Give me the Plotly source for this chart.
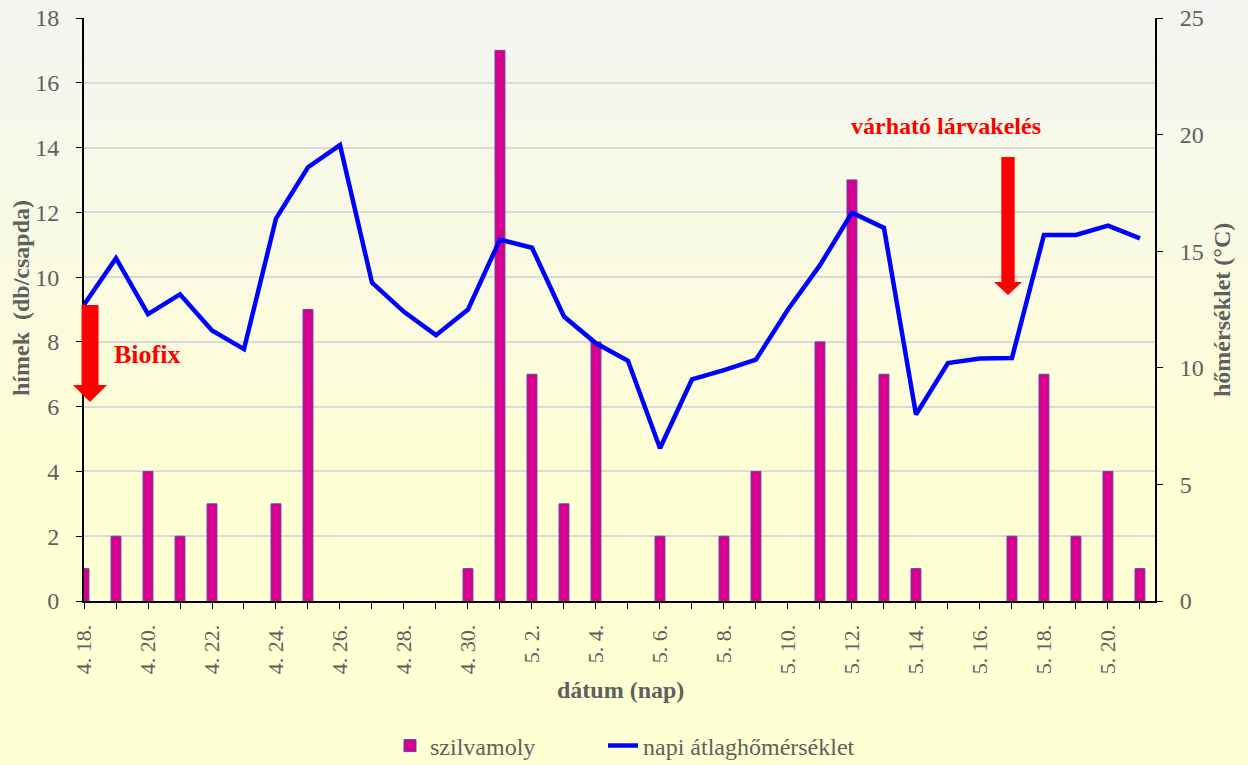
import plotly.graph_objects as go

# ---- data ----
dates = ["4. 18.", "4. 19.", "4. 20.", "4. 21.", "4. 22.", "4. 23.", "4. 24.", "4. 25.",
         "4. 26.", "4. 27.", "4. 28.", "4. 29.", "4. 30.", "5. 1.", "5. 2.", "5. 3.",
         "5. 4.", "5. 5.", "5. 6.", "5. 7.", "5. 8.", "5. 9.", "5. 10.", "5. 11.",
         "5. 12.", "5. 13.", "5. 14.", "5. 15.", "5. 16.", "5. 17.", "5. 18.", "5. 19.",
         "5. 20.", "5. 21."]
szilvamoly = [1, 2, 4, 2, 3, 0, 3, 9, 0, 0, 0, 0, 1, 17, 7, 3, 8, 0, 2, 0, 2, 4, 0, 8,
              13, 7, 1, 0, 0, 2, 7, 2, 4, 1]
homerseklet = [12.7, 14.7, 12.3, 13.15, 11.6, 10.8, 16.4, 18.6, 19.55, 13.65, 12.4, 11.4,
               12.5, 15.5, 15.15, 12.2, 11.05, 10.3, 6.55, 9.5, 9.9, 10.35, 12.5, 14.4,
               16.65, 16.0, 8.0, 10.2, 10.4, 10.42, 15.7, 15.7, 16.1, 15.55]

idx = list(range(len(dates)))
tick_idx = idx[::2]
tick_txt = dates[::2]

GRAY = "#5F5F5F"
SERIF = "Liberation Serif, Times New Roman, serif"

# plot area in pixels (page coordinates)
L, R, T, B = 84, 1155, 18, 601
def px(x):
    return (x - L) / (R - L)
def py(y):
    return (B - y) / (B - T)

fig = go.Figure()
fig.add_trace(go.Bar(
    x=idx, y=[v if v else None for v in szilvamoly], name="szilvamoly", width=0.31,
    marker=dict(color="#D4008F", line=dict(color="#6F3FA0", width=1)),
    yaxis="y", legend="legend"))
fig.add_trace(go.Scatter(
    x=idx, y=homerseklet, name="napi átlaghőmérséklet", mode="lines",
    line=dict(color="#0000FF", width=4.5), yaxis="y2", legend="legend2"))

# background gradient (style)
shapes = []
top = (243, 245, 242)
bot = (255, 255, 212)
n = 60
grad_end = 480
for i in range(n):
    y0p = grad_end * i / n
    y1p = grad_end * (i + 1) / n
    t = (i + 0.5) / n
    c = tuple(round(top[k] + (bot[k] - top[k]) * t) for k in range(3))
    shapes.append(dict(type="rect", xref="paper", yref="paper", layer="below",
                       x0=px(-5), x1=px(1260),
                       y0=py(y1p + 0.5), y1=py(y0p - (5 if i == 0 else 0)),
                       line=dict(width=0), fillcolor="rgb(%d,%d,%d)" % c))

# arrows (pixel geometry -> paper coords)
def arrow(xc, ytop, yhead, ytip, hw, aw):
    pts = [(xc - hw, ytop), (xc + hw, ytop), (xc + hw, yhead), (xc + aw, yhead),
           (xc, ytip), (xc - aw, yhead), (xc - hw, yhead)]
    path = "M " + " L ".join(f"{px(a):.5f},{py(b):.5f}" for a, b in pts) + " Z"
    return dict(type="path", xref="paper", yref="paper", layer="above",
                path=path, fillcolor="#FF0000", line=dict(width=0))

shapes.append(arrow(90, 305, 385, 402, 8.5, 17))
shapes.append(arrow(1008, 157, 282, 295, 6.7, 14))

leg_common = dict(orientation="h", xanchor="left", yanchor="middle", y=py(746),
                  font=dict(size=24, color=GRAY), bgcolor="rgba(0,0,0,0)",
                  itemwidth=30, tracegroupgap=0)

fig.update_layout(
    width=1248, height=765,
    margin=dict(l=L, r=1248 - R, t=T, b=765 - B, autoexpand=False),
    paper_bgcolor="rgb(255,255,212)", plot_bgcolor="rgba(0,0,0,0)",
    font=dict(family=SERIF, color=GRAY, size=24),
    shapes=shapes,
    barmode="overlay",
    showlegend=True,
    legend=dict(x=px(390), **leg_common),
    legend2=dict(x=px(603), **leg_common),
    xaxis=dict(range=[0, 33.47], tickvals=tick_idx, ticktext=tick_txt, tickangle=-90,
               ticks="outside", ticklen=6, tickcolor="black", showline=True,
               linecolor="black", linewidth=2, showgrid=False, zeroline=False,
               automargin=False, ticklabelstandoff=7,
               tickfont=dict(size=22, color=GRAY),
               minor=dict(ticks="outside", dtick=1, tick0=0, ticklen=6, tickcolor="black",
                          showgrid=False)),
    yaxis=dict(range=[0, 18], dtick=2, ticks="outside", ticklen=6, tickcolor="black",
               showline=True, linecolor="black", linewidth=2, gridcolor="#DADADA",
               gridwidth=2, zeroline=False, automargin=False, ticklabelstandoff=12,
               tickfont=dict(size=24, color=GRAY)),
    yaxis2=dict(range=[0, 25], dtick=5, overlaying="y", side="right", ticks="outside",
                ticklen=6, tickcolor="black", showline=True, linecolor="black",
                linewidth=2, showgrid=False, zeroline=False, automargin=False,
                ticklabelstandoff=12, tickfont=dict(size=24, color=GRAY)),
    annotations=[
        dict(text="<b>dátum (nap)</b>", x=px(620), y=py(690), xref="paper", yref="paper",
             xanchor="center", yanchor="middle", showarrow=False,
             font=dict(size=24, color=GRAY)),
        dict(text="<b>hímek  (db/csapda)</b>", x=px(21), y=py(298), xref="paper", yref="paper",
             xanchor="center", yanchor="middle", showarrow=False, textangle=-90,
             font=dict(size=24, color=GRAY)),
        dict(text="<b>hőmérséklet (°C)</b>", x=px(1222), y=py(310), xref="paper", yref="paper",
             xanchor="center", yanchor="middle", showarrow=False, textangle=-90,
             font=dict(size=24, color=GRAY)),
        dict(text="<b>Biofix</b>", x=px(147), y=py(354), xref="paper", yref="paper",
             xanchor="center", yanchor="middle", showarrow=False,
             font=dict(size=26, color="#FF0000", family=SERIF)),
        dict(text="<b>várható lárvakelés</b>", x=px(946), y=py(126), xref="paper", yref="paper",
             xanchor="center", yanchor="middle", showarrow=False,
             font=dict(size=24, color="#FF0000", family=SERIF)),
    ],
)

fig.write_html("out.html", config={"displayModeBar": False},
               post_script="document.body.style.margin='0';document.body.style.overflow='hidden';")
